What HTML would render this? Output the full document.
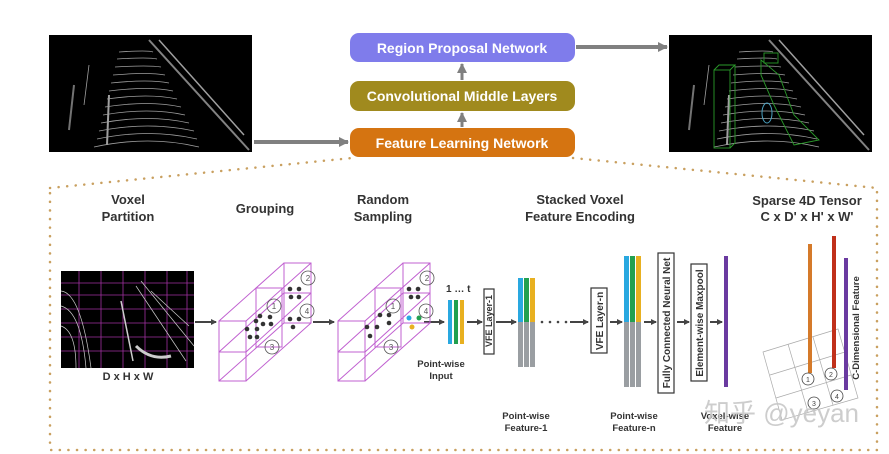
<!DOCTYPE html>
<html><head><meta charset="utf-8"><style>
html,body{margin:0;padding:0;background:#fff;}
svg{display:block;}
text{font-family:"Liberation Sans",Arial,sans-serif;}
</style></head><body>
<svg width="889" height="454" viewBox="0 0 889 454" xmlns="http://www.w3.org/2000/svg">
<defs>
<marker id="ah" markerWidth="6" markerHeight="6" refX="5" refY="3" orient="auto" markerUnits="userSpaceOnUse"><path d="M0,0 L6,3 L0,6z" fill="#444"/></marker>
<marker id="ahg" markerWidth="10" markerHeight="10" refX="9" refY="5" orient="auto" markerUnits="userSpaceOnUse"><path d="M0,0 L10,5 L0,10z" fill="#808080"/></marker>
<g id="lidar">
<rect x="0" y="0" width="203" height="117" fill="#000"/>
<g fill="none" stroke="#bbb" stroke-width="0.8" opacity="0.85">
<path d="M45,112 Q100,100 150,112"/><path d="M48,104 Q100,93 148,104"/><path d="M50,96 Q100,86 145,96"/>
<path d="M52,88 Q100,79 140,88"/><path d="M54,80 Q100,72 136,80"/><path d="M56,72 Q100,65 132,72"/>
<path d="M58,64 Q100,58 128,64"/><path d="M60,56 Q100,51 124,56"/><path d="M62,48 Q100,44 120,48"/>
<path d="M64,40 Q100,37 116,40"/><path d="M66,32 Q100,30 112,32"/><path d="M68,24 Q100,22 108,24"/>
<path d="M70,17 Q100,15 104,17"/>
<path d="M100,5 L200,115" stroke-width="2" stroke="#999"/><path d="M110,5 L195,100" stroke-width="1.5"/>
<path d="M60,60 L58,110" stroke-width="2"/><path d="M25,50 L20,95" stroke-width="2" stroke="#888"/>
<path d="M40,30 L35,70"/>
</g>
</g>
</defs>

<!-- top row -->
<use href="#lidar" x="49" y="35"/>
<g transform="translate(669,35)">
<use href="#lidar"/>
<g fill="none" stroke="#2a9a2a" stroke-width="0.9">
<rect x="45" y="35" width="16" height="78"/><path d="M45,35 L50,30 L66,30 L61,35 M66,30 L66,108 L61,113"/>
<path d="M92,25 L110,40 L125,80 L150,105 L125,110 L105,70 L92,40z"/>
<rect x="95" y="18" width="14" height="10"/>
</g>
<ellipse cx="98" cy="78" rx="5" ry="10" fill="none" stroke="#4aa0c0"/>
</g>
<line x1="254" y1="142" x2="348" y2="142" stroke="#808080" stroke-width="4" marker-end="url(#ahg)"/>
<line x1="576" y1="47" x2="667" y2="47" stroke="#808080" stroke-width="4" marker-end="url(#ahg)"/>
<line x1="462" y1="127" x2="462" y2="113" stroke="#808080" stroke-width="3" marker-end="url(#ahg)"/>
<line x1="462" y1="80" x2="462" y2="64" stroke="#808080" stroke-width="3" marker-end="url(#ahg)"/>

<rect x="350" y="33" width="225" height="29" rx="9" fill="#7f7ceb"/>
<text x="462" y="53" text-anchor="middle" font-size="14" font-weight="bold" fill="#fff">Region Proposal Network</text>
<rect x="350" y="81" width="225" height="30" rx="9" fill="#a08a1e"/>
<text x="462" y="101" text-anchor="middle" font-size="14" font-weight="bold" fill="#fff">Convolutional Middle Layers</text>
<rect x="350" y="128" width="225" height="29" rx="9" fill="#d57411"/>
<text x="462" y="148" text-anchor="middle" font-size="14" font-weight="bold" fill="#fff">Feature Learning Network</text>

<!-- dotted callout -->
<path d="M50,188 L352,158 M573,158 L877,188 L877,450 L50,450 L50,188" fill="none" stroke="#c9a060" stroke-width="2.5" stroke-dasharray="0.1 8.5" stroke-linecap="round"/>

<!-- titles -->
<g font-weight="bold" font-size="13" fill="#333" text-anchor="middle">
<text x="128" y="204">Voxel</text><text x="128" y="221">Partition</text>
<text x="265" y="213">Grouping</text>
<text x="383" y="204">Random</text><text x="383" y="221">Sampling</text>
<text x="580" y="204">Stacked Voxel</text><text x="580" y="221">Feature Encoding</text>
<text x="807" y="205">Sparse 4D Tensor</text><text x="807" y="221">C x D' x H' x W'</text>
<text x="128" y="380" font-size="11">D x H x W</text>
</g>

<!-- voxel partition image -->
<g transform="translate(61,271)">
<rect width="133" height="97" fill="#000"/>
<g stroke="#a030a0" stroke-width="0.8">
<path d="M0,12H133M0,24H133M0,38H133M0,52H133M0,66H133M0,80H133"/>
<path d="M18,0V97M40,0V97M62,0V97M84,0V97M106,0V97M126,0V97"/>
</g>
<g fill="none" stroke="#ccc" stroke-width="0.7">
<path d="M0,20 Q20,22 30,97"/><path d="M0,35 Q20,40 25,97"/><path d="M0,55 Q15,60 15,97"/>
<path d="M75,15 L125,90"/><path d="M80,10 L133,75"/><path d="M90,20 L128,55"/>
<path d="M75,75 Q90,90 110,85" stroke-width="3"/><path d="M60,30 L72,90" stroke-width="1.5"/>
</g>
</g>
<line x1="195" y1="322" x2="216" y2="322" stroke="#444" stroke-width="2" marker-end="url(#ah)"/>
<line x1="313" y1="322" x2="334" y2="322" stroke="#444" stroke-width="2" marker-end="url(#ah)"/>
<line x1="424" y1="322" x2="444" y2="322" stroke="#444" stroke-width="2" marker-end="url(#ah)"/>

<!-- cubes -->
<g id="cube" fill="none" stroke="#c060d0" stroke-width="1">
<rect x="219" y="321" width="27" height="60"/><path d="M219,352H246"/>
<rect x="256" y="288" width="26" height="59"/>
<rect x="284" y="263" width="27" height="60"/><path d="M284,293H311"/>
<path d="M219,321L284,263M246,321L311,263M246,381L311,323M219,381L284,323M219,352L284,293M246,352L311,293"/>
</g>
<use href="#cube" x="119"/>
<g fill="none" stroke="#555" stroke-width="0.8">
<circle cx="274" cy="306" r="7"/><circle cx="308" cy="278" r="7"/><circle cx="272" cy="347" r="7"/><circle cx="307" cy="311" r="7"/>
<circle cx="393" cy="306" r="7"/><circle cx="427" cy="278" r="7"/><circle cx="391" cy="347" r="7"/><circle cx="426" cy="311" r="7"/>
</g>
<g font-size="8" fill="#555" text-anchor="middle">
<text x="274" y="309">1</text><text x="308" y="281">2</text><text x="272" y="350">3</text><text x="307" y="314">4</text>
<text x="393" y="309">1</text><text x="427" y="281">2</text><text x="391" y="350">3</text><text x="426" y="314">4</text>
</g>
<g fill="#333">
<circle cx="290" cy="289" r="2.3"/><circle cx="299" cy="289" r="2.3"/><circle cx="291" cy="297" r="2.3"/><circle cx="299" cy="297" r="2.3"/>
<circle cx="270" cy="317" r="2.3"/><circle cx="260" cy="316" r="2.3"/><circle cx="256" cy="321" r="2.3"/><circle cx="263" cy="324" r="2.3"/>
<circle cx="271" cy="324" r="2.3"/><circle cx="247" cy="329" r="2.3"/><circle cx="257" cy="329" r="2.3"/><circle cx="250" cy="337" r="2.3"/>
<circle cx="257" cy="337" r="2.3"/><circle cx="290" cy="319" r="2.3"/><circle cx="299" cy="319" r="2.3"/><circle cx="293" cy="327" r="2.3"/>
<circle cx="409" cy="289" r="2.3"/><circle cx="418" cy="289" r="2.3"/><circle cx="411" cy="297" r="2.3"/><circle cx="418" cy="297" r="2.3"/>
<circle cx="380" cy="315" r="2.3"/><circle cx="389" cy="315" r="2.3"/><circle cx="367" cy="327" r="2.3"/><circle cx="377" cy="327" r="2.3"/>
<circle cx="389" cy="323" r="2.3"/><circle cx="370" cy="336" r="2.3"/>
</g>
<circle cx="409" cy="318" r="2.5" fill="#29a8e0"/><circle cx="419" cy="318" r="2.5" fill="#22a050"/><circle cx="412" cy="327" r="2.5" fill="#e8b020"/>

<!-- point-wise input -->
<text x="446" y="292" font-size="10" font-weight="bold" fill="#333">1 … t</text>
<rect x="448" y="300" width="4" height="44" fill="#29a8e0"/><rect x="454" y="300" width="4" height="44" fill="#22a050"/><rect x="460" y="300" width="4" height="44" fill="#e8b020"/>
<line x1="467" y1="322" x2="482" y2="322" stroke="#444" stroke-width="2" marker-end="url(#ah)"/>
<rect x="484" y="289" width="10" height="65" fill="#fff" stroke="#333" stroke-width="1.2"/>
<text transform="translate(492,321) rotate(-90)" text-anchor="middle" font-size="9" font-weight="bold" fill="#333">VFE Layer-1</text>
<line x1="496" y1="322" x2="516" y2="322" stroke="#444" stroke-width="2" marker-end="url(#ah)"/>
<rect x="518" y="278" width="5" height="44" fill="#29a8e0"/><rect x="524" y="278" width="5" height="44" fill="#22a050"/><rect x="530" y="278" width="5" height="44" fill="#e8b020"/>
<rect x="518" y="322" width="17" height="45" fill="#9a9ea2"/><path d="M523.5,322V367M529.5,322V367" stroke="#fff" stroke-width="1"/>
<g fill="#444"><circle cx="542" cy="322" r="1.3"/><circle cx="550" cy="322" r="1.3"/><circle cx="558" cy="322" r="1.3"/><circle cx="566" cy="322" r="1.3"/></g>
<line x1="570" y1="322" x2="588" y2="322" stroke="#444" stroke-width="2" marker-end="url(#ah)"/>
<rect x="591" y="288" width="16" height="65" fill="#fff" stroke="#333" stroke-width="1.2"/>
<text transform="translate(603,321) rotate(-90)" text-anchor="middle" font-size="10" font-weight="bold" fill="#333">VFE Layer-n</text>
<line x1="610" y1="322" x2="622" y2="322" stroke="#444" stroke-width="2" marker-end="url(#ah)"/>
<rect x="624" y="256" width="5" height="66" fill="#29a8e0"/><rect x="630" y="256" width="5" height="66" fill="#22a050"/><rect x="636" y="256" width="5" height="66" fill="#e8b020"/>
<rect x="624" y="322" width="17" height="65" fill="#9a9ea2"/><path d="M629.5,322V387M635.5,322V387" stroke="#fff" stroke-width="1"/>
<line x1="644" y1="322" x2="656" y2="322" stroke="#444" stroke-width="2" marker-end="url(#ah)"/>
<rect x="658" y="253" width="16" height="140" fill="#fff" stroke="#333" stroke-width="1.2"/>
<text transform="translate(670,323) rotate(-90)" text-anchor="middle" font-size="10" font-weight="bold" fill="#333">Fully Connected Neural Net</text>
<line x1="677" y1="322" x2="689" y2="322" stroke="#444" stroke-width="2" marker-end="url(#ah)"/>
<rect x="691" y="264" width="16" height="117" fill="#fff" stroke="#333" stroke-width="1.2"/>
<text transform="translate(703,323) rotate(-90)" text-anchor="middle" font-size="10" font-weight="bold" fill="#333">Element-wise Maxpool</text>
<line x1="710" y1="322" x2="722" y2="322" stroke="#444" stroke-width="2" marker-end="url(#ah)"/>
<rect x="724" y="256" width="4" height="131" fill="#6a3aa0"/>

<g font-size="9.5" font-weight="bold" fill="#333" text-anchor="middle">
<text x="441" y="367">Point-wise</text><text x="441" y="379">Input</text>
<text x="526" y="419">Point-wise</text><text x="526" y="431">Feature-1</text>
<text x="634" y="419">Point-wise</text><text x="634" y="431">Feature-n</text>
<text x="725" y="419">Voxel-wise</text><text x="725" y="431">Feature</text>
</g>

<!-- sparse tensor -->
<g fill="none" stroke="#aaa" stroke-width="0.7">
<path d="M763,352 L838,329 L858,398 L782,420z"/>
<path d="M788,344 L808,412 M813,337 L833,405 M770,375 L845,352 M776,398 L851,375"/>
</g>
<rect x="808" y="244" width="4" height="129" fill="#d57a2a"/>
<rect x="832" y="236" width="4" height="132" fill="#c0301a"/>
<rect x="844" y="258" width="4" height="132" fill="#6a3aa0"/>
<g fill="none" stroke="#444" stroke-width="0.8">
<circle cx="808" cy="379" r="6"/><circle cx="831" cy="374" r="6"/><circle cx="814" cy="403" r="6"/><circle cx="837" cy="396" r="6"/>
</g>
<g font-size="7" fill="#444" text-anchor="middle">
<text x="808" y="382">1</text><text x="831" y="377">2</text><text x="814" y="406">3</text><text x="837" y="399">4</text>
</g>
<text transform="translate(859,328) rotate(-90)" text-anchor="middle" font-size="9.5" font-weight="bold" fill="#333">C-Dimensional Feature</text>

<!-- watermark -->
<text x="704" y="422" font-family="'Liberation Sans','Noto Sans CJK SC',sans-serif" font-size="26" fill="#c8c8c8" opacity="0.9">知乎 @yeyan</text>
</svg>
</body></html>
